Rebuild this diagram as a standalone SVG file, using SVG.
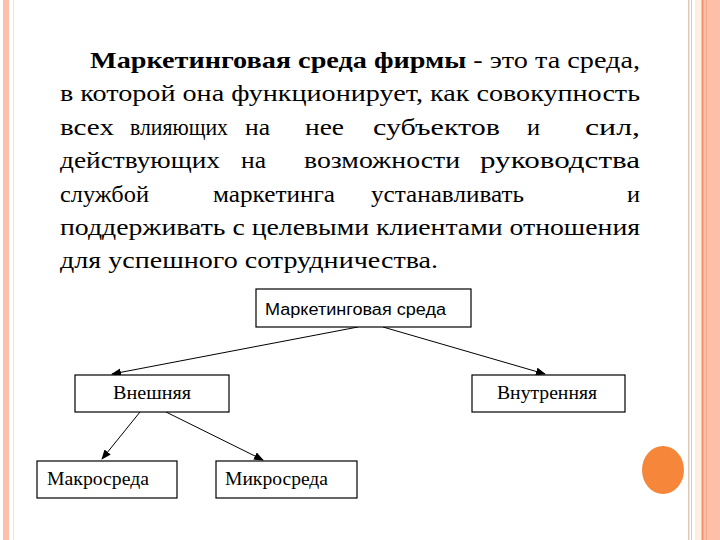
<svg xmlns="http://www.w3.org/2000/svg" width="720" height="540" viewBox="0 0 720 540">
<style>
.body{font-family:"Liberation Serif","Times New Roman","DejaVu Serif",serif;font-size:24px;fill:#000}
.box{fill:#fff;stroke:#000;stroke-width:1.2}
.lbl{font-family:"Liberation Serif","Times New Roman","DejaVu Serif",serif;font-size:18px;fill:#000}
.edge{stroke:#000;stroke-width:1;fill:none;marker-end:url(#ah)}
</style>
<defs>
<marker id="ah" markerWidth="10" markerHeight="8" refX="9" refY="4" orient="auto" markerUnits="userSpaceOnUse">
<path d="M0,0 L10,4 L0,8 Z" fill="#000"/>
</marker>
</defs>
<rect width="720" height="540" fill="#fff"/>
<rect x="3" y="0" width="6" height="540" fill="#fbc1ab"/>
<rect x="13" y="0" width="1" height="540" fill="#f6e7c8"/>
<rect x="688" y="0" width="1.5" height="540" fill="#e3c6b8"/>
<rect x="691" y="0" width="1" height="540" fill="#e3c6b8"/>
<rect x="695" y="0" width="6" height="540" fill="#fdeee0"/>
<rect x="701" y="0" width="19" height="540" fill="#fdbfa8"/>
<rect x="702" y="0" width="1.5" height="540" fill="#f48f6e"/>
<rect x="706" y="0" width="1" height="540" fill="#f6a88c"/>

<text class="body" x="90" y="68" textLength="550" lengthAdjust="spacingAndGlyphs"><tspan font-weight="bold">Маркетинговая среда фирмы</tspan> - это та среда,</text>
<text class="body" x="60" y="101" textLength="580" lengthAdjust="spacingAndGlyphs">в которой она функционирует, как совокупность</text>
<text class="body" x="60" y="135" textLength="54" lengthAdjust="spacingAndGlyphs">всех</text>
<text class="body" x="130" y="135" textLength="98" lengthAdjust="spacingAndGlyphs">влияющих</text>
<text class="body" x="245" y="135" textLength="25" lengthAdjust="spacingAndGlyphs">на</text>
<text class="body" x="305" y="135" textLength="39" lengthAdjust="spacingAndGlyphs">нее</text>
<text class="body" x="373" y="135" textLength="127" lengthAdjust="spacingAndGlyphs">субъектов</text>
<text class="body" x="527" y="135" textLength="13" lengthAdjust="spacingAndGlyphs">и</text>
<text class="body" x="585" y="135" textLength="55" lengthAdjust="spacingAndGlyphs">сил,</text>
<text class="body" x="60" y="168" textLength="160" lengthAdjust="spacingAndGlyphs">действующих</text>
<text class="body" x="241" y="168" textLength="25" lengthAdjust="spacingAndGlyphs">на</text>
<text class="body" x="304" y="168" textLength="156" lengthAdjust="spacingAndGlyphs">возможности</text>
<text class="body" x="480" y="168" textLength="160" lengthAdjust="spacingAndGlyphs">руководства</text>
<text class="body" x="60" y="202" textLength="89" lengthAdjust="spacingAndGlyphs">службой</text>
<text class="body" x="213" y="202" textLength="122" lengthAdjust="spacingAndGlyphs">маркетинга</text>
<text class="body" x="371" y="202" textLength="153" lengthAdjust="spacingAndGlyphs">устанавливать</text>
<text class="body" x="627" y="202" textLength="13" lengthAdjust="spacingAndGlyphs">и</text>
<text class="body" x="60" y="235" textLength="580" lengthAdjust="spacingAndGlyphs">поддерживать с целевыми клиентами отношения</text>
<text class="body" x="60" y="268" textLength="378" lengthAdjust="spacingAndGlyphs">для успешного сотрудничества.</text>

<g id="connectors">
<line class="edge" x1="358" y1="327" x2="112" y2="374"/>
<line class="edge" x1="383" y1="327" x2="545" y2="374"/>
<line class="edge" x1="140" y1="412" x2="102" y2="459"/>
<line class="edge" x1="166" y1="412" x2="263" y2="460"/>
</g>
<g id="n-root"><rect class="box" x="256" y="289" width="215" height="38"/>
<text x="265" y="315" font-family="Liberation Sans,Arial,sans-serif" font-size="16" textLength="181" lengthAdjust="spacingAndGlyphs">Маркетинговая среда</text></g>
<g id="n-ext"><rect class="box" x="75" y="375" width="154" height="37"/><text class="lbl" x="113" y="399" textLength="78" lengthAdjust="spacingAndGlyphs">Внешняя</text></g>
<g id="n-int"><rect class="box" x="472" y="375" width="153" height="37"/><text class="lbl" x="497" y="399" textLength="100" lengthAdjust="spacingAndGlyphs">Внутренняя</text></g>
<g id="n-macro"><rect class="box" x="37" y="461" width="140" height="37"/><text class="lbl" x="47" y="485" textLength="102" lengthAdjust="spacingAndGlyphs">Макросреда</text></g>
<g id="n-micro"><rect class="box" x="216" y="461" width="141" height="37"/><text class="lbl" x="225" y="485" textLength="103" lengthAdjust="spacingAndGlyphs">Микросреда</text></g>
<ellipse cx="663" cy="470" rx="21" ry="24" fill="#f6873a"/>
</svg>
